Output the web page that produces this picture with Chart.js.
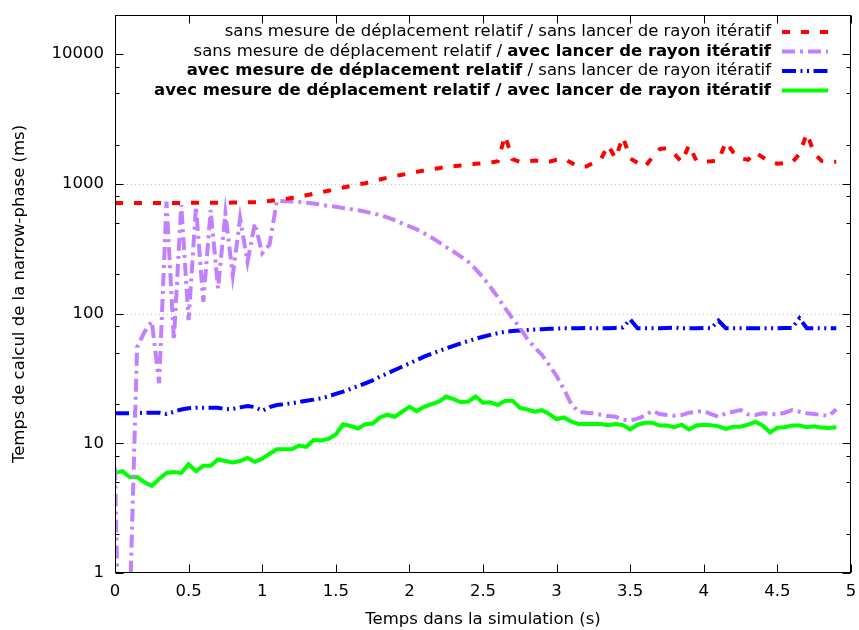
<!DOCTYPE html>
<html>
<head>
<meta charset="utf-8">
<script src="https://cdn.jsdelivr.net/npm/chart.js@4.4.1/dist/chart.umd.min.js"></script>
<style>
  html, body { margin: 0; padding: 0; background: #fff; }
  canvas { display: block; }
</style>
</head>
<body>
<canvas id="narrowPhaseChart" width="859" height="630"></canvas>
<script>
// Sample times (s)
const times = [
  0, 0.05, 0.1, 0.15, 0.2, 0.25, 0.3, 0.35, 0.4, 0.45,
  0.5, 0.55, 0.6, 0.65, 0.7, 0.75, 0.8, 0.85, 0.9, 0.95,
  1, 1.05, 1.1, 1.15, 1.2, 1.25, 1.3, 1.35, 1.4, 1.45,
  1.5, 1.55, 1.6, 1.65, 1.7, 1.75, 1.8, 1.85, 1.9, 1.95,
  2, 2.05, 2.1, 2.15, 2.2, 2.25, 2.3, 2.35, 2.4, 2.45,
  2.5, 2.55, 2.6, 2.65, 2.7, 2.75, 2.8, 2.85, 2.9, 2.95,
  3, 3.05, 3.1, 3.15, 3.2, 3.25, 3.3, 3.35, 3.4, 3.45,
  3.5, 3.55, 3.6, 3.65, 3.7, 3.75, 3.8, 3.85, 3.9, 3.95,
  4, 4.05, 4.1, 4.15, 4.2, 4.25, 4.3, 4.35, 4.4, 4.45,
  4.5, 4.55, 4.6, 4.65, 4.7, 4.75, 4.8, 4.85, 4.9
];

// sans mesure / sans lancer (ms)
const noMeasureNoRay = [
  712, 712, 711, 710, 710, 710, 711, 711, 712, 712,
  713, 713, 714, 714, 714, 715, 716, 718, 720, 722,
  728, 738, 750, 762, 778, 795, 815, 838, 860, 885,
  912, 935, 960, 990, 1010, 1045, 1080, 1115, 1145, 1175,
  1205, 1235, 1265, 1295, 1320, 1345, 1365, 1385, 1405, 1425,
  1440, 1455, 1490, 2350, 1550, 1480, 1490, 1510, 1500, 1480,
  1530, 1560, 1450, 1350, 1360, 1450, 1540, 1990, 1570, 2300,
  1570, 1450, 1350, 1600, 1850, 1880, 1700, 1470, 1990, 1500,
  1480, 1490, 1510, 2110, 1750, 1570, 1530, 1750, 1600, 1480,
  1430, 1440, 1460, 1700, 2450, 1720, 1500, 1480, 1480
];

// sans mesure / avec lancer (ms)
const noMeasureRay = [
  6.5, 0.01, 0.5, 55, 72, 87, 29, 728, 62.6, 686,
  89, 665, 123, 628, 156, 592, 197, 542, 250, 496,
  292, 340, 740, 735, 730, 725, 715, 705, 690, 675,
  665, 650, 638, 625, 610, 592, 575, 550, 525, 496,
  470, 445, 415, 385, 355, 325, 300, 275, 250, 220,
  190, 160, 134, 110, 92, 78, 64, 55, 48, 40,
  33, 26, 20, 17.5, 17.2, 17.0, 16.6, 16.2, 16.0, 15.2,
  15.0, 15.5, 16.3, 17.8, 16.8, 16.5, 16.3, 16.5, 17.2, 17.5,
  17.7, 16.8, 16.0, 17.0, 17.5, 18.0, 16.7, 16.5, 17.0, 16.8,
  16.7, 17.2, 18.0, 17.5, 17.0, 16.8, 16.5, 16.3, 18.3
];

// avec mesure / sans lancer (ms)
const measureNoRay = [
  17.0, 17.0, 17.0, 17.1, 17.2, 17.2, 17.2, 16.8, 17.5, 18.2,
  18.6, 18.8, 18.8, 18.8, 18.8, 18.3, 18.4, 18.9, 19.4, 19.0,
  17.8, 19.0, 19.7, 20.0, 20.3, 20.8, 21.3, 21.7, 22.2, 23.0,
  24.0, 25.0, 26.2, 27.5, 29.0, 30.5, 32.6, 34.5, 36.7, 38.9,
  41.3, 43.8, 46.5, 48.9, 51.4, 53.9, 56.4, 58.9, 61.4, 63.8,
  66.2, 68.5, 70.5, 72.4, 73.2, 74.0, 74.6, 75.2, 75.7, 76.2,
  76.6, 77.0, 77.0, 77.0, 77.2, 77.0, 77.0, 77.0, 77.5, 78.0,
  90.0, 77.0, 77.0, 77.0, 77.0, 77.5, 78.0, 77.0, 77.0, 77.0,
  77.5, 77.0, 88.0, 77.0, 77.0, 77.0, 77.0, 77.0, 77.0, 77.0,
  77.0, 77.5, 77.5, 92.0, 77.0, 77.0, 77.0, 77.0, 77.0
];

// avec mesure / avec lancer (ms)
const measureRay = [
  5.9, 6.1, 5.5, 5.5, 5.0, 4.7, 5.3, 5.9, 6.0, 5.9,
  6.9, 6.1, 6.7, 6.7, 7.5, 7.3, 7.1, 7.3, 7.7, 7.2,
  7.6, 8.3, 9.0, 9.0, 9.0, 9.6, 9.4, 10.6, 10.5, 10.8,
  11.7, 14.0, 13.6, 13.0, 14.0, 14.2, 15.8, 16.6, 16.0, 17.5,
  19.1, 17.7, 19.1, 20.0, 20.9, 22.9, 21.9, 20.7, 21.0, 22.9,
  20.5, 20.7, 19.7, 21.3, 21.3, 18.7, 18.2, 17.5, 18.0, 16.8,
  15.3, 15.8, 14.7, 14.1, 14.1, 14.1, 14.1, 13.8, 14.1, 13.8,
  12.8, 13.9, 14.4, 14.4, 13.7, 13.7, 13.3, 13.9, 12.8, 13.7,
  13.9, 13.8, 13.5, 12.9, 13.4, 13.4, 13.9, 14.6, 13.7, 12.1,
  13.2, 13.3, 13.7, 13.7, 13.3, 13.5, 13.2, 13.1, 13.3
];

const yTickValues = [1, 2, 5, 8, 10, 20, 50, 80, 100, 200, 500, 800, 1000, 2000, 5000, 8000, 10000, 20000];
const yLabelValues = [1, 10, 100, 1000, 10000];
const yGridValues = [10, 100, 1000];

// legend rows: [text, bold]
const legendRows = [
  [['sans mesure de déplacement relatif / sans lancer de rayon itératif', false]],
  [['sans mesure de déplacement relatif / ', false], ['avec lancer de rayon itératif', true]],
  [['avec mesure de déplacement relatif', true], [' / sans lancer de rayon itératif', false]],
  [['avec mesure de déplacement relatif / avec lancer de rayon itératif', true]]
];

const FONT = 'DejaVu Sans';
const FONT_SIZE = 16.5;
Chart.defaults.font.family = FONT;
Chart.defaults.font.size = FONT_SIZE;
Chart.defaults.color = '#000';

function toPoints(values) {
  return values.map((v, i) => ({ x: times[i], y: v }));
}

// grid, frame, inward ticks and the gnuplot-like key
const gnuplotFrame = {
  id: 'gnuplotFrame',
  beforeDatasetsDraw(chart) {
    const { ctx, chartArea: a, scales: { y } } = chart;
    ctx.save();
    ctx.strokeStyle = '#c0c0c0';
    ctx.lineWidth = 1;
    ctx.setLineDash([1, 3]);
    yGridValues.forEach(v => {
      const py = Math.round(y.getPixelForValue(v)) + 0.5;
      ctx.beginPath();
      ctx.moveTo(a.left, py);
      ctx.lineTo(a.right, py);
      ctx.stroke();
    });
    ctx.restore();
  },
  afterDatasetsDraw(chart) {
    const { ctx, chartArea: a, scales: { x, y } } = chart;
    ctx.save();
    ctx.strokeStyle = '#000';
    ctx.lineWidth = 1;
    ctx.setLineDash([]);
    const L = Math.round(a.left) + 0.5, R = Math.round(a.right) - 0.5;
    const T = Math.round(a.top) + 0.5, B = Math.round(a.bottom) - 0.5;
    ctx.strokeRect(L, T, R - L, B - T);

    ctx.beginPath();
    yTickValues.forEach(v => {
      const py = Math.round(y.getPixelForValue(v)) + 0.5;
      if (py < T - 1 || py > B + 1) return;
      const len = yLabelValues.includes(v) ? 8 : 4;
      ctx.moveTo(L, py); ctx.lineTo(L + len, py);
      ctx.moveTo(R, py); ctx.lineTo(R - len, py);
    });
    x.ticks.forEach(t => {
      const px = Math.round(x.getPixelForValue(t.value)) + 0.5;
      ctx.moveTo(px, B); ctx.lineTo(px, B - 8);
      ctx.moveTo(px, T); ctx.lineTo(px, T + 8);
    });
    ctx.stroke();

    // key
    const textRight = 771, sampleLeft = 782, sampleRight = 828;
    const rowY = [32, 51.5, 71, 90.5];
    ctx.textBaseline = 'middle';
    ctx.fillStyle = '#000';
    legendRows.forEach((row, r) => {
      let total = 0;
      row.forEach(([txt, bold]) => {
        ctx.font = (bold ? 'bold ' : '') + FONT_SIZE + 'px "' + FONT + '"';
        total += ctx.measureText(txt).width;
      });
      let cx = textRight - total;
      row.forEach(([txt, bold]) => {
        ctx.font = (bold ? 'bold ' : '') + FONT_SIZE + 'px "' + FONT + '"';
        ctx.textAlign = 'left';
        ctx.fillText(txt, cx, rowY[r]);
        cx += ctx.measureText(txt).width;
      });
      const ds = chart.data.datasets[r];
      ctx.strokeStyle = ds.borderColor;
      ctx.lineWidth = ds.borderWidth;
      ctx.lineCap = 'butt';
      ctx.setLineDash(ds.borderDash || []);
      ctx.beginPath();
      ctx.moveTo(sampleLeft, rowY[r]);
      ctx.lineTo(sampleRight, rowY[r]);
      ctx.stroke();
    });
    ctx.restore();
  }
};

const ctx = document.getElementById('narrowPhaseChart').getContext('2d');
new Chart(ctx, {
  type: 'line',
  data: {
    datasets: [
      {
        label: legendRows[0].map(p => p[0]).join(''),
        data: toPoints(noMeasureNoRay),
        borderColor: '#ff0000',
        borderWidth: 4,
        borderDash: [8, 11]
      },
      {
        label: legendRows[1].map(p => p[0]).join(''),
        data: toPoints(noMeasureRay),
        borderColor: '#c080ff',
        borderWidth: 4,
        borderDash: [13, 5, 3, 5]
      },
      {
        label: legendRows[2].map(p => p[0]).join(''),
        data: toPoints(measureNoRay),
        borderColor: '#0000ff',
        borderWidth: 4,
        borderDash: [14, 4.5, 2, 4.5, 2, 4.5]
      },
      {
        label: legendRows[3].map(p => p[0]).join(''),
        data: toPoints(measureRay),
        borderColor: '#00ff00',
        borderWidth: 4
      }
    ]
  },
  options: {
    responsive: false,
    animation: false,
    devicePixelRatio: 1,
    layout: { padding: { top: 15, right: 8, left: 0, bottom: 0 } },
    elements: {
      point: { radius: 0 },
      line: { tension: 0, borderCapStyle: 'butt', borderJoinStyle: 'miter', fill: false }
    },
    datasets: { line: { clip: 0 } },
    plugins: {
      legend: { display: false },
      tooltip: { enabled: false }
    },
    scales: {
      x: {
        type: 'linear',
        min: 0,
        max: 5,
        ticks: { stepSize: 0.5, padding: 9, callback: v => String(v) },
        grid: { display: false, drawTicks: false },
        border: { display: false },
        title: { display: true, text: 'Temps dans la simulation (s)', padding: { top: 0, bottom: 0 } },
        afterFit: s => { s.height = 57; s.paddingLeft = 0; s.paddingRight = 0; }
      },
      y: {
        type: 'logarithmic',
        min: 1,
        max: 20000,
        afterBuildTicks: s => { s.ticks = yTickValues.map(v => ({ value: v })); },
        ticks: {
          autoSkip: false,
          padding: 11,
          callback: v => yLabelValues.includes(v) ? String(v) : ''
        },
        grid: { display: false, drawTicks: false },
        border: { display: false },
        title: { display: true, text: 'Temps de calcul de la narrow-phase (ms)', padding: { top: 10, bottom: 0 } },
        afterFit: s => { s.width = 115; s.paddingTop = 0; s.paddingBottom = 0; }
      }
    }
  },
  plugins: [gnuplotFrame]
});
</script>
</body>
</html>
